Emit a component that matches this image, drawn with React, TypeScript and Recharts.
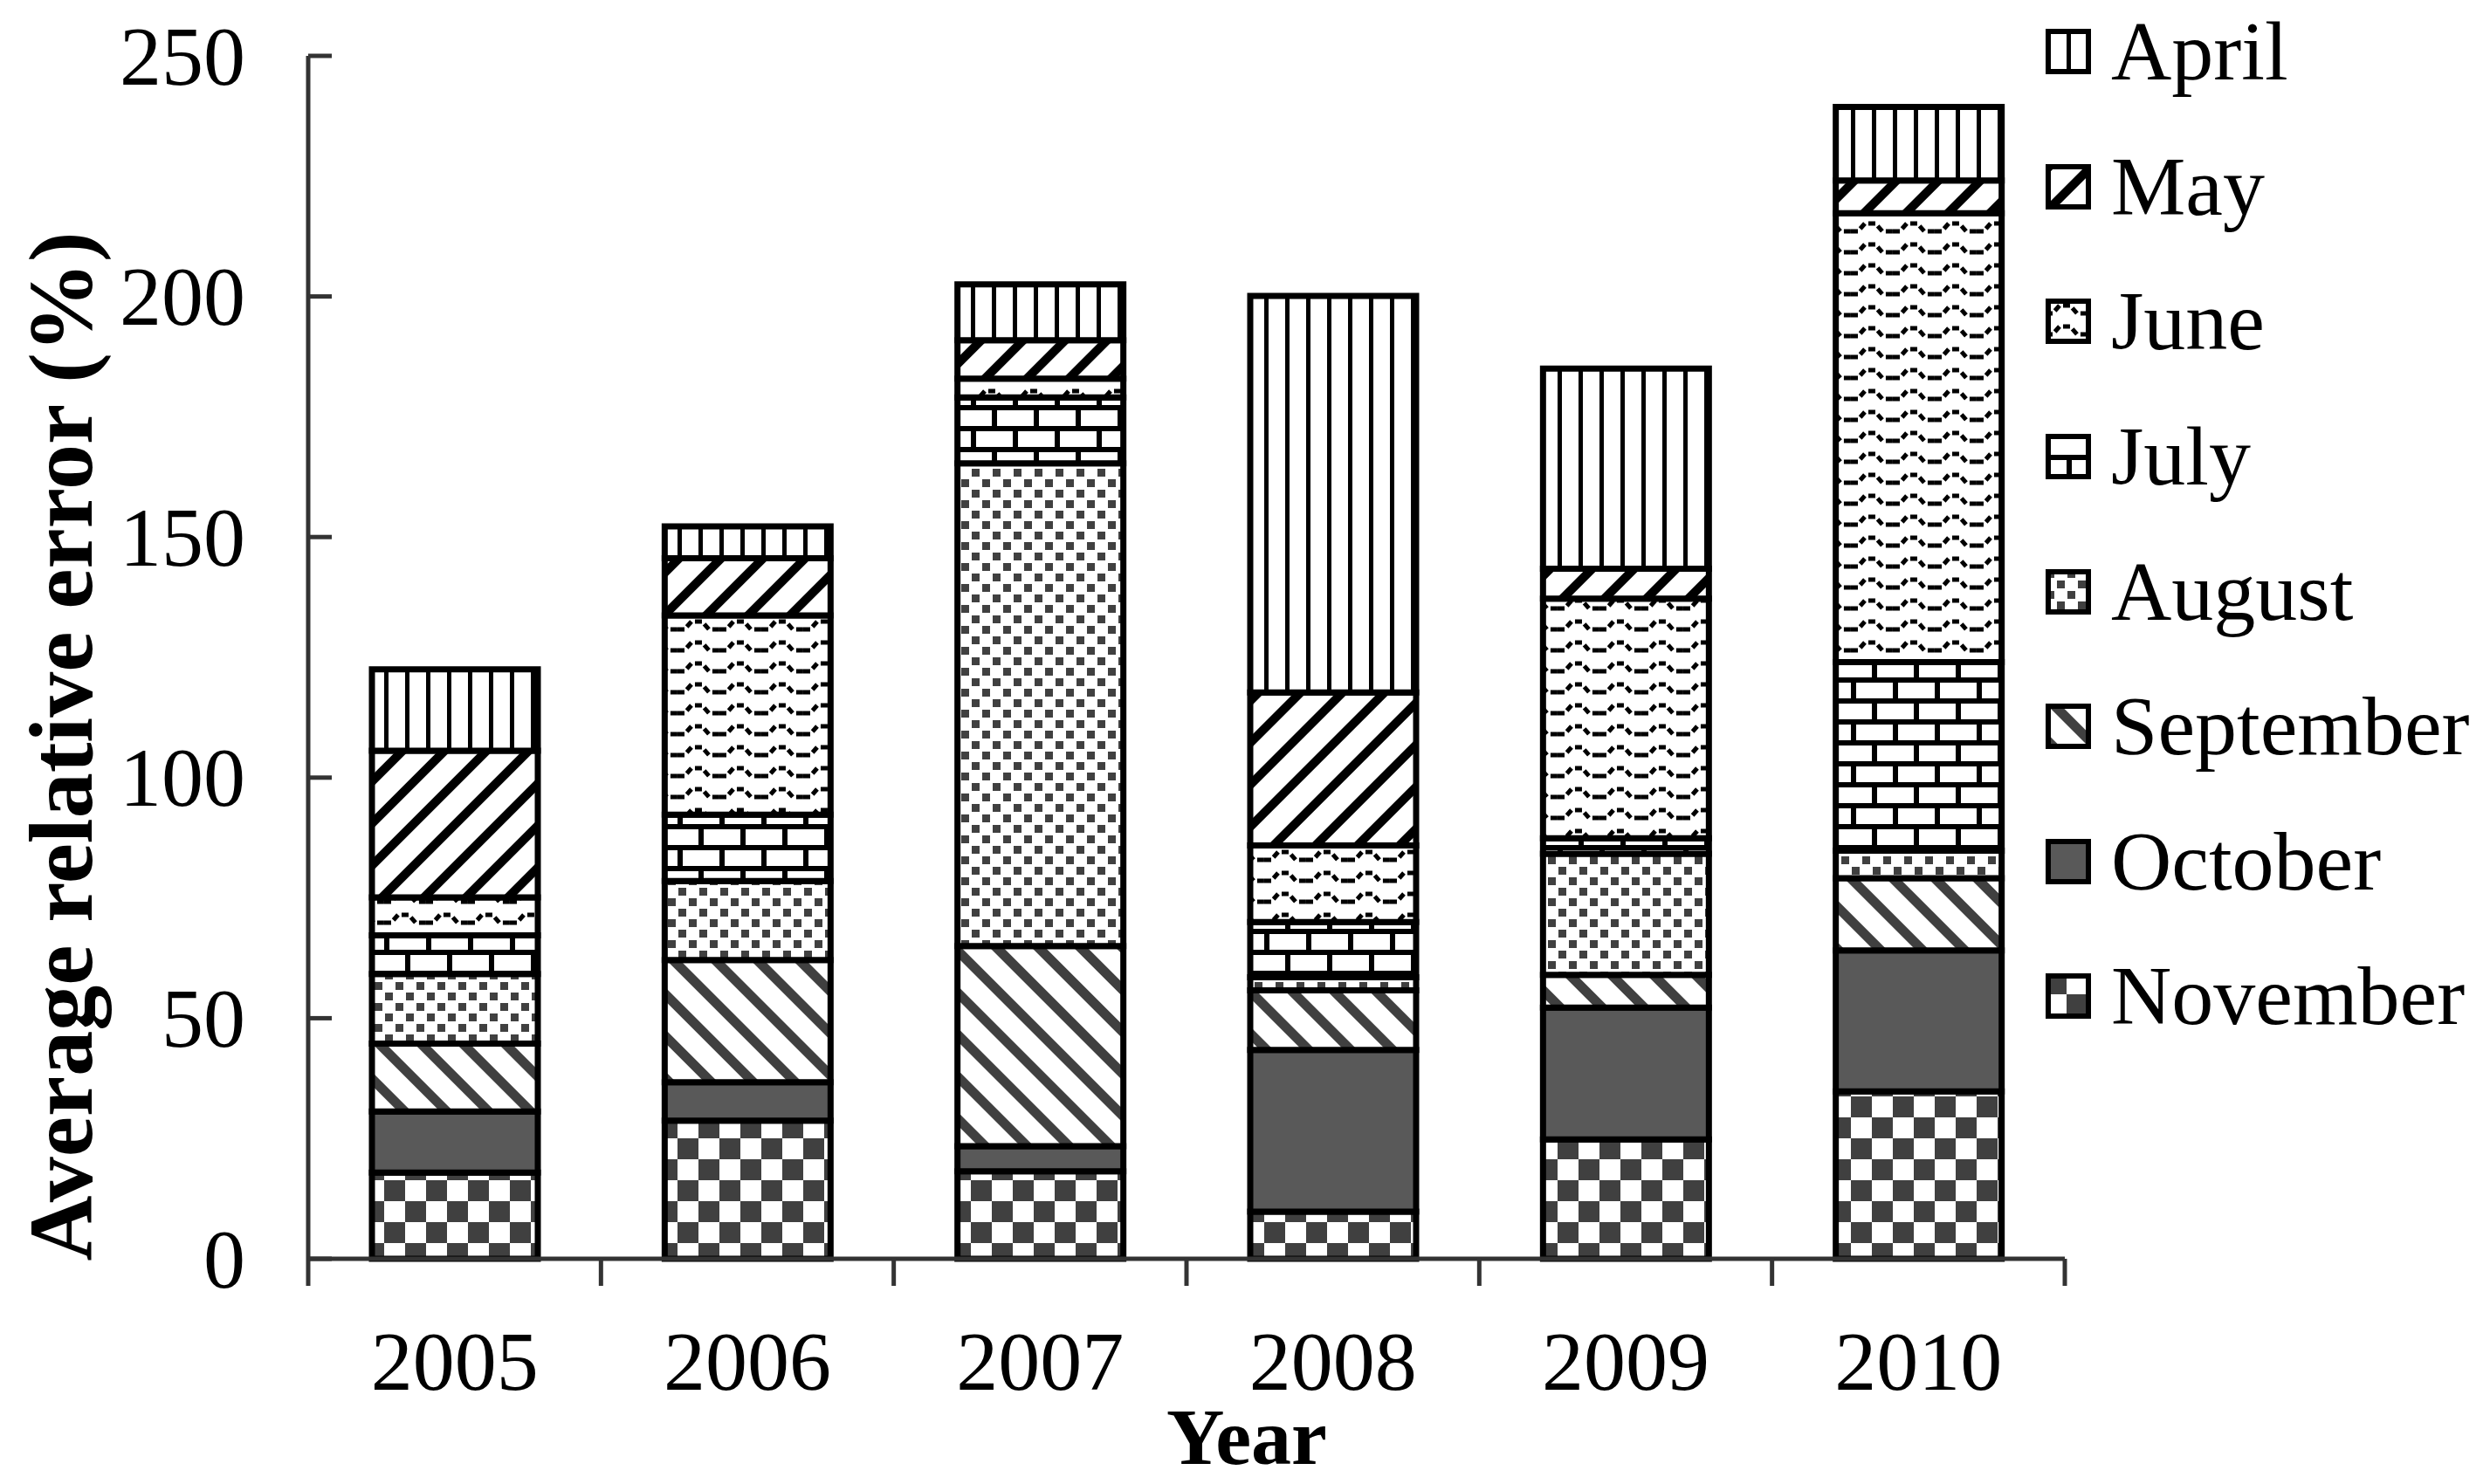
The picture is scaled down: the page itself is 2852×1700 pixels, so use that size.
import React from "react";
import { BarChart, Bar, XAxis, YAxis } from "recharts";

// years on the category axis
const years = ["2005", "2006", "2007", "2008", "2009", "2010"];

// stacked segments, bottom (November) to top (April), % values
const november = [17.9, 28.7, 18.2, 9.8, 24.8, 34.8];
const october = [12.7, 8.0, 5.2, 33.6, 27.4, 29.3];
const september = [14.1, 25.4, 41.6, 12.4, 6.8, 15.0];
const august = [14.5, 16.4, 100.3, 2.7, 25.2, 5.7];
const july = [8.0, 13.8, 13.7, 11.5, 3.2, 39.2];
const june = [7.9, 41.4, 3.9, 15.9, 49.8, 93.3];
const may = [30.5, 11.9, 8.0, 31.8, 6.2, 6.8];
const april = [16.9, 6.6, 11.6, 82.4, 41.6, 15.3];

const yTicks = [0, 50, 100, 150, 200, 250];

const series = [
  { key: "November", values: november, fill: "url(#pat-nov)" },
  { key: "October", values: october, fill: "#595959" },
  { key: "September", values: september, fill: "url(#pat-sep)" },
  { key: "August", values: august, fill: "url(#pat-aug)" },
  { key: "July", values: july, fill: "url(#pat-jul)" },
  { key: "June", values: june, fill: "url(#pat-jun)" },
  { key: "May", values: may, fill: "url(#pat-may)" },
  { key: "April", values: april, fill: "url(#pat-apr)" },
];

const data = years.map((year, i) => {
  const row: Record<string, string | number> = { year };
  series.forEach((s) => {
    row[s.key] = s.values[i];
  });
  return row;
});

const FONT = '"Liberation Serif", "Times New Roman", serif';
const W = 2836;
const H = 1690;
const PLOT_LEFT = 345;
const PLOT_RIGHT = 2357;
const PLOT_TOP = 56;
const PLOT_BOTTOM = 1434;
const BAND = (PLOT_RIGHT - PLOT_LEFT) / years.length;
const AXIS_COLOR = "#333";

function PatternDefs() {
  return (
    <defs>
      <pattern id="pat-apr" patternUnits="userSpaceOnUse" width={24} height={24}>
        <rect width={24} height={24} fill="#fff" />
        <rect x={0} y={0} width={5} height={24} fill="#000" />
      </pattern>
      <pattern id="pat-may" patternUnits="userSpaceOnUse" width={34} height={34} patternTransform="rotate(45)">
        <rect width={34} height={34} fill="#fff" />
        <rect x={0} y={0} width={10} height={34} fill="#000" />
      </pattern>
      <pattern id="pat-jun" patternUnits="userSpaceOnUse" width={48} height={24}>
        <rect width={48} height={24} fill="#fff" />
        <path
          d="M0,17 L8,17 L16,8 L28,8 L36,17 L48,17"
          fill="none"
          stroke="#000"
          strokeWidth={5}
          strokeDasharray="8 4"
        />
      </pattern>
      <pattern id="pat-jul" patternUnits="userSpaceOnUse" width={48} height={48}>
        <rect width={48} height={48} fill="#fff" />
        <rect x={0} y={0} width={48} height={6} fill="#000" />
        <rect x={0} y={24} width={48} height={6} fill="#000" />
        <rect x={0} y={0} width={6} height={24} fill="#000" />
        <rect x={24} y={24} width={6} height={24} fill="#000" />
      </pattern>
      <pattern id="pat-aug" patternUnits="userSpaceOnUse" width={24} height={24}>
        <rect width={24} height={24} fill="#fff" />
        <rect x={1} y={1} width={9} height={9} fill="#404040" />
        <rect x={13} y={13} width={9} height={9} fill="#404040" />
      </pattern>
      <pattern id="pat-sep" patternUnits="userSpaceOnUse" width={34} height={34} patternTransform="rotate(-45)">
        <rect width={34} height={34} fill="#fff" />
        <rect x={0} y={0} width={11} height={34} fill="#404040" />
      </pattern>
      <pattern id="pat-nov" patternUnits="userSpaceOnUse" width={48} height={48}>
        <rect width={48} height={48} fill="#fff" />
        <rect x={0} y={0} width={24} height={24} fill="#404040" />
        <rect x={24} y={24} width={24} height={24} fill="#404040" />
      </pattern>
    </defs>
  );
}

function XTick(props: any) {
  const { x, y, payload, index } = props;
  return (
    <g>
      <line x1={x - BAND / 2} y1={y} x2={x - BAND / 2} y2={y + 31} stroke={AXIS_COLOR} strokeWidth={5} />
      {index === years.length - 1 && (
        <line x1={x + BAND / 2} y1={y} x2={x + BAND / 2} y2={y + 31} stroke={AXIS_COLOR} strokeWidth={5} />
      )}
      <text x={x} y={y + 117} textAnchor="middle" dominantBaseline="central" fontFamily={FONT} fontSize={96} fill="#000">
        {payload.value}
      </text>
    </g>
  );
}

function YTick(props: any) {
  const { x, y, payload } = props;
  return (
    <g>
      <line x1={x} y1={y} x2={x + 27} y2={y} stroke={AXIS_COLOR} strokeWidth={5} />
      <text x={x - 72} y={y} textAnchor="end" dominantBaseline="central" fontFamily={FONT} fontSize={96} fill="#000">
        {payload.value}
      </text>
    </g>
  );
}

function LegendBox() {
  const items = [...series].reverse();
  return (
    <div style={{ position: "absolute", left: 2335, top: 51 - 77, fontFamily: FONT }}>
      {items.map((s) => (
        <div key={s.key} style={{ display: "flex", alignItems: "center", height: 154.6 }}>
          <svg width={52} height={52} style={{ display: "block" }}>
            <rect x={3} y={3} width={46} height={46} fill={s.fill} stroke="#000" strokeWidth={6} />
          </svg>
          <span style={{ marginLeft: 23, fontSize: 96, lineHeight: 1, color: "#000" }}>{s.key}</span>
        </div>
      ))}
    </div>
  );
}

export default function App() {
  return (
    <div style={{ position: "relative", width: W, height: H, background: "#fff" }}>
      <BarChart
        width={W}
        height={H}
        data={data}
        margin={{ top: PLOT_TOP, right: W - PLOT_RIGHT, left: 0, bottom: H - PLOT_BOTTOM - 200 }}
        barSize={190}
      >
        <PatternDefs />
        <XAxis
          dataKey="year"
          height={200}
          tickSize={0}
          tickMargin={0}
          tickLine={false}
          axisLine={{ stroke: AXIS_COLOR, strokeWidth: 5 }}
          tick={<XTick />}
          interval={0}
          label={{
            content: () => (
              <text x={1420} y={1638} textAnchor="middle" dominantBaseline="central" fontFamily={FONT} fontSize={92} fontWeight="bold" fill="#000">
                Year
              </text>
            ),
          }}
        />
        <YAxis
          width={PLOT_LEFT}
          domain={[0, 250]}
          ticks={yTicks}
          tickSize={0}
          tickMargin={0}
          tickLine={false}
          axisLine={{ stroke: AXIS_COLOR, strokeWidth: 5 }}
          tick={<YTick />}
          label={{
            content: () => (
              <text
                x={61}
                y={847}
                transform="rotate(-90, 61, 847)"
                textAnchor="middle"
                dominantBaseline="central"
                fontFamily={FONT}
                fontSize={104}
                fontWeight="bold"
                fill="#000"
              >
                Average relative error (%)
              </text>
            ),
          }}
        />
        {series.map((s) => (
          <Bar
            key={s.key}
            dataKey={s.key}
            stackId="months"
            fill={s.fill}
            stroke="#000"
            strokeWidth={7}
            isAnimationActive={false}
          />
        ))}
      </BarChart>
      <LegendBox />
    </div>
  );
}
